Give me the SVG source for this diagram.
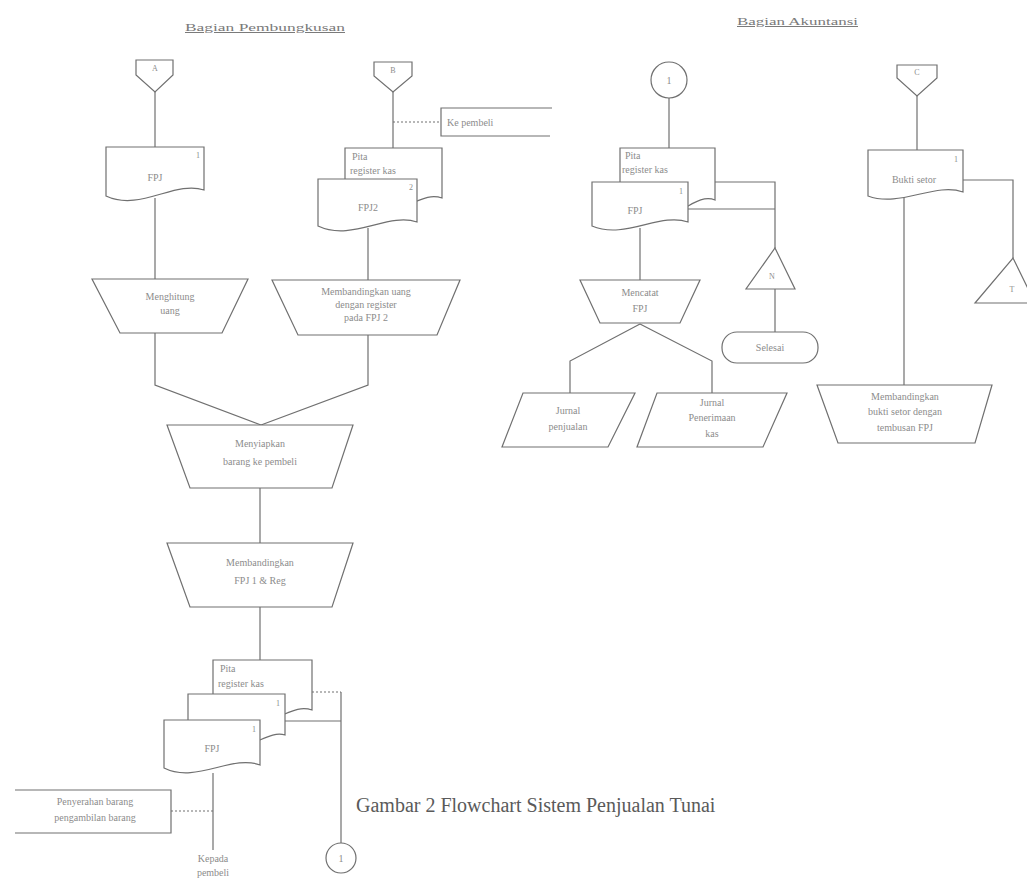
<svg xmlns="http://www.w3.org/2000/svg" width="1027" height="885" viewBox="0 0 1027 885">
  <style>
    .ln { fill: none; stroke: #707070; stroke-width: 1.2; }
    .dot { fill: none; stroke: #707070; stroke-width: 1.2; stroke-dasharray: 2 2; }
    .sh { fill: #ffffff; stroke: #707070; stroke-width: 1.2; }
    .t { font-family: "Liberation Serif", serif; font-size: 10px; fill: #8c8c8c; text-anchor: middle; }
    .tl { font-family: "Liberation Serif", serif; font-size: 10px; fill: #8c8c8c; }
    .sm { font-family: "Liberation Serif", serif; font-size: 8px; fill: #8c8c8c; text-anchor: middle; }
    .hd { font-family: "Liberation Serif", serif; font-size: 10px; fill: #7a7a7a; text-decoration: underline; }
    .cap { font-family: "Liberation Serif", serif; font-size: 20px; fill: #5a5a5a; }
  </style>
  <rect width="1027" height="885" fill="#ffffff"/>

  <!-- section headings -->
  <text class="hd" x="185" y="31" textLength="160" lengthAdjust="spacingAndGlyphs">Bagian Pembungkusan</text>
  <text class="hd" x="737" y="25" textLength="121" lengthAdjust="spacingAndGlyphs">Bagian Akuntansi</text>

  <!-- connectors -->
  <g id="connectors">
    <!-- left column -->
    <path class="ln" d="M155 92 V147"/>
    <path class="ln" d="M155 198 V279"/>
    <path class="ln" d="M393 92 V148"/>
    <path class="dot" d="M393 122 H441"/>
    <path class="ln" d="M368 228 V280"/>
    <path class="ln" d="M155 333 V385 L261 425"/>
    <path class="ln" d="M368 335 V385 L261 425"/>
    <path class="ln" d="M260 488 V543"/>
    <path class="ln" d="M260 607 V660"/>
    <path class="dot" d="M312 692 H341"/>
    <path class="ln" d="M285 721 H341"/>
    <path class="ln" d="M341 692 V843"/>
    <path class="ln" d="M213 773 V850"/>
    <path class="dot" d="M171 811 H213"/>
    <!-- accounting -->
    <path class="ln" d="M669 98 V148"/>
    <path class="ln" d="M715 182 H775 V248"/>
    <path class="ln" d="M688 209 H775"/>
    <path class="ln" d="M775 289 V332"/>
    <path class="ln" d="M640 228 V280"/>
    <path class="ln" d="M640 324 L570 361 V393"/>
    <path class="ln" d="M640 324 L712 361 V393"/>
    <path class="ln" d="M917 96 V150"/>
    <path class="ln" d="M963 180 H1013 V258"/>
    <path class="ln" d="M904 197 V385"/>
  </g>

  <!-- Bagian Pembungkusan -->
  <g id="offpage-a">
    <path class="sh" d="M136 60 H173 V75 L155 92 L136 75 Z"/>
    <text class="sm" x="155" y="71">A</text>
  </g>
  <g id="doc-fpj-1">
    <path class="sh" d="M106 147 H204 V190 C175 180 140 212 106 196 Z"/>
    <text class="sm" x="198" y="158">1</text>
    <text class="t" x="155" y="181">FPJ</text>
  </g>
  <g id="proc-menghitung">
    <path class="sh" d="M92 279 H248 L222 333 H120 Z"/>
    <text class="t" x="170" y="300">Menghitung</text>
    <text class="t" x="170" y="314">uang</text>
  </g>
  <g id="offpage-b">
    <path class="sh" d="M374 62 H412 V76 L393 92 L374 76 Z"/>
    <text class="sm" x="393" y="73">B</text>
  </g>
  <g id="box-pembeli">
    <path class="ln" d="M552 108 H441 V136 H550"/>
    <text class="tl" x="447" y="126">Ke pembeli</text>
  </g>
  <g id="doc-pita-1">
    <path class="sh" d="M345 148 H442 V198 C430 194 420 200 410 204 L345 204 Z"/>
    <text class="tl" x="352" y="160">Pita</text>
    <text class="tl" x="350" y="174">register kas</text>
  </g>
  <g id="doc-fpj-2">
    <path class="sh" d="M318 179 H417 V222 C388 212 352 242 318 226 Z"/>
    <text class="sm" x="411" y="190">2</text>
    <text class="t" x="368" y="211">FPJ2</text>
  </g>
  <g id="proc-membandingkan-uang">
    <path class="sh" d="M272 280 H460 L437 335 H298 Z"/>
    <text class="t" x="366" y="295">Membandingkan uang</text>
    <text class="t" x="366" y="308">dengan register</text>
    <text class="t" x="366" y="321">pada FPJ 2</text>
  </g>
  <g id="proc-menyiapkan">
    <path class="sh" d="M167 425 H353 L332 488 H190 Z"/>
    <text class="t" x="260" y="447">Menyiapkan</text>
    <text class="t" x="260" y="465">barang ke pembeli</text>
  </g>
  <g id="proc-membandingkan-fpj">
    <path class="sh" d="M167 543 H353 L332 607 H190 Z"/>
    <text class="t" x="260" y="566">Membandingkan</text>
    <text class="t" x="260" y="584">FPJ 1 &amp; Reg</text>
  </g>
  <g id="doc-pita-2">
    <path class="sh" d="M213 660 H312 V710 C300 706 290 712 280 716 L213 716 Z"/>
    <text class="tl" x="220" y="672">Pita</text>
    <text class="tl" x="218" y="687">register kas</text>
  </g>
  <g id="doc-copy">
    <path class="sh" d="M188 694 H285 V735 C275 732 265 738 255 742 L188 742 Z"/>
    <text class="sm" x="278" y="706">1</text>
  </g>
  <g id="doc-fpj-3">
    <path class="sh" d="M164 720 H260 V765 C232 754 196 784 164 768 Z"/>
    <text class="sm" x="254" y="732">1</text>
    <text class="t" x="212" y="752">FPJ</text>
  </g>
  <g id="box-penyerahan">
    <path class="ln" d="M15 790 H171 V833 H15"/>
    <text class="t" x="95" y="805">Penyerahan barang</text>
    <text class="t" x="95" y="821">pengambilan barang</text>
  </g>
  <g id="end-kepada">
    <text class="t" x="213" y="862">Kepada</text>
    <text class="t" x="213" y="876">pembeli</text>
  </g>
  <g id="onpage-1-bottom">
    <circle class="sh" cx="341" cy="858" r="15"/>
    <text class="t" x="341" y="862">1</text>
  </g>

  <!-- Bagian Akuntansi -->
  <g id="onpage-1-top">
    <circle class="sh" cx="669" cy="80" r="18"/>
    <text class="t" x="669" y="84">1</text>
  </g>
  <g id="doc-pita-3">
    <path class="sh" d="M620 148 H715 V200 C705 196 695 202 688 206 L620 206 Z"/>
    <text class="tl" x="625" y="159">Pita</text>
    <text class="tl" x="622" y="173">register kas</text>
  </g>
  <g id="doc-fpj-4">
    <path class="sh" d="M592 182 H688 V222 C660 212 625 240 592 226 Z"/>
    <text class="sm" x="681" y="194">1</text>
    <text class="t" x="635" y="214">FPJ</text>
  </g>
  <g id="file-n">
    <path class="sh" d="M775 248 L795 289 H746 Z"/>
    <text class="sm" x="772" y="279">N</text>
  </g>
  <g id="term-selesai">
    <rect class="sh" x="722" y="332" width="96" height="31" rx="15" ry="15"/>
    <text class="t" x="770" y="351">Selesai</text>
  </g>
  <g id="proc-mencatat">
    <path class="sh" d="M580 280 H700 L680 323 H600 Z"/>
    <text class="t" x="640" y="296">Mencatat</text>
    <text class="t" x="640" y="312">FPJ</text>
  </g>
  <g id="io-jurnal-penjualan">
    <path class="sh" d="M523 393 H635 L608 447 H502 Z"/>
    <text class="t" x="568" y="414">Jurnal</text>
    <text class="t" x="568" y="430">penjualan</text>
  </g>
  <g id="io-jurnal-kas">
    <path class="sh" d="M657 393 H787 L763 447 H637 Z"/>
    <text class="t" x="712" y="406">Jurnal</text>
    <text class="t" x="712" y="421">Penerimaan</text>
    <text class="t" x="712" y="437">kas</text>
  </g>
  <g id="offpage-c">
    <path class="sh" d="M897 65 H937 V78 L917 96 L897 78 Z"/>
    <text class="sm" x="917" y="75">C</text>
  </g>
  <g id="doc-bukti-setor">
    <path class="sh" d="M868 150 H963 V192 C935 182 900 208 868 196 Z"/>
    <text class="sm" x="956" y="162">1</text>
    <text class="t" x="914" y="183">Bukti setor</text>
  </g>
  <g id="file-t">
    <path class="sh" d="M1013 258 L1035 303 H975 Z"/>
    <text class="sm" x="1012" y="292">T</text>
  </g>
  <g id="proc-membandingkan-bukti">
    <path class="sh" d="M817 385 H992 L975 443 H838 Z"/>
    <text class="t" x="905" y="400">Membandingkan</text>
    <text class="t" x="905" y="415">bukti setor dengan</text>
    <text class="t" x="905" y="431">tembusan FPJ</text>
  </g>

  <!-- figure caption -->
  <text class="cap" x="356" y="812">Gambar 2 Flowchart Sistem Penjualan Tunai</text>
</svg>
